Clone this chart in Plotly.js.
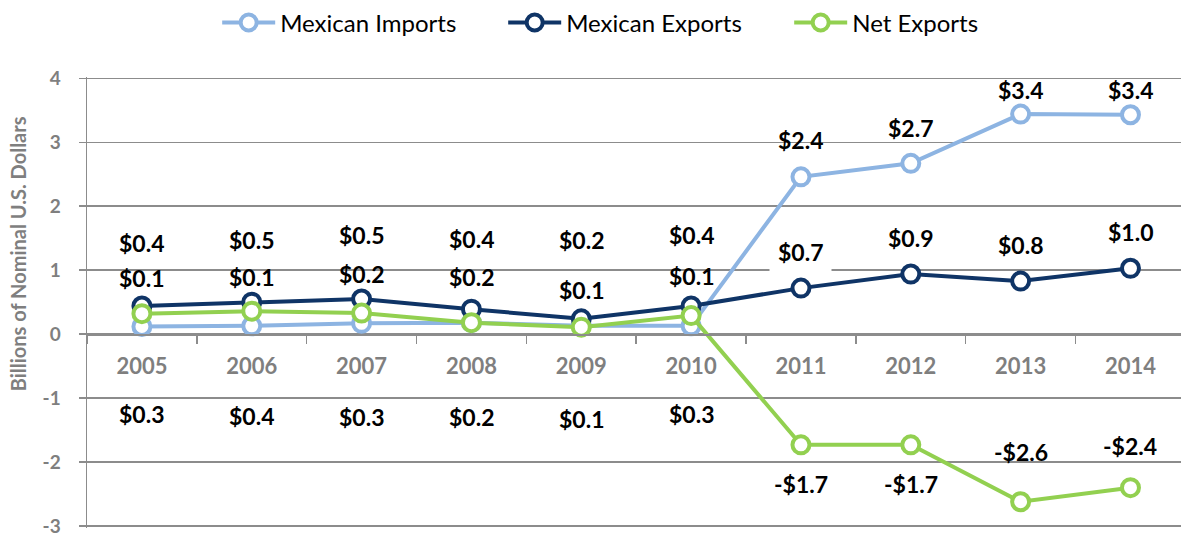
<!DOCTYPE html>
<html>
<head>
<meta charset="utf-8">
<script src="https://cdn.plot.ly/plotly-3.0.1.min.js"></script>
<style>html,body{margin:0;padding:0;background:#fff}#chart{width:1181px;height:535px}</style>
</head>
<body>
<div id="chart"></div>
<script>
const years = ["2005","2006","2007","2008","2009","2010","2011","2012","2013","2014"];
const imports = [0.12, 0.13, 0.17, 0.18, 0.13, 0.13, 2.46, 2.67, 3.44, 3.43];
const exportsV = [0.44, 0.50, 0.55, 0.39, 0.24, 0.44, 0.72, 0.94, 0.83, 1.03];
const netExports = [0.32, 0.36, 0.33, 0.18, 0.11, 0.29, -1.73, -1.73, -2.62, -2.40];
const importLabels = ["$0.1","$0.1","$0.2","$0.2","$0.1","$0.1","$2.4","$2.7","$3.4","$3.4"];
const exportLabels = ["$0.4","$0.5","$0.5","$0.4","$0.2","$0.4","$0.7","$0.9","$0.8","$1.0"];
const netLabels = ["$0.3","$0.4","$0.3","$0.2","$0.1","$0.3","-$1.7","-$1.7","-$2.6","-$2.4"];
const yTickVals = [-3, -2, -1, 0, 1, 2, 3, 4];
const yTickText = ["-3", "-2", "-1", "0", "1", "2", "3", "4"];

// label placement (pixel offsets from the point, like manually placed Excel labels)
const importShift = [48, 49, 49, 46, 36, 50, 37, 35, 24, 25];
const exportShift = [63, 62, 64, 70, 79, 71, 36, 36, 36, 36];
const netShift = [-100, -105, -104, -94, -92, -98, -39, -39, 50, 42];

const FONT = "Lato, 'Open Sans', sans-serif";
const GRID = "#8c8c8c";
const TXT = "#7f7f7f";

function series(name, y, color) {
  return {
    type: "scatter", mode: "lines+markers", name: name,
    x: years, y: y,
    line: {color: color, width: 4},
    marker: {symbol: "circle", size: 17, color: "#ffffff", line: {color: color, width: 4}},
    cliponaxis: false
  };
}

const traces = [
  series("Mexican Imports", imports, "#8db4e2"),
  series("Mexican Exports", exportsV, "#0f3466"),
  series("Net Exports", netExports, "#92d050")
];

const annotations = [];
function addLabels(vals, labels, shifts, bgIdx) {
  for (let i = 0; i < years.length; i++) {
    const bg = bgIdx && bgIdx.indexOf(i) >= 0;
    annotations.push({
      x: i, y: vals[i], xref: "x", yref: "y",
      text: "<b>" + labels[i] + "</b>", showarrow: false, yshift: shifts[i],
      font: {family: FONT, size: 23, color: "#000000"},
      bgcolor: bg ? "#ffffff" : "rgba(0,0,0,0)",
      borderpad: bg ? 8 : 1
    });
  }
}
addLabels(imports, importLabels, importShift);
addLabels(exportsV, exportLabels, exportShift, [6]);
addLabels(netExports, netLabels, netShift);

annotations.push({
  xref: "paper", yref: "paper", x: -0.063, y: 0.607,
  xanchor: "center", yanchor: "middle", textangle: -90, showarrow: false,
  text: "<b>Billions of Nominal U.S. Dollars</b>",
  font: {family: FONT, size: 20, color: TXT}
});

const layout = {
  width: 1181, height: 535,
  margin: {l: 87, r: 0, t: 73, b: 7},
  paper_bgcolor: "#ffffff", plot_bgcolor: "#ffffff",
  font: {family: FONT},
  showlegend: true,
  legend: {
    orientation: "h", x: 0.119, xanchor: "left", y: 1.12, yanchor: "middle",
    font: {family: FONT, size: 24, color: "#000000"},
    itemwidth: 53, entrywidth: 218, entrywidthmode: "pixels"
  },
  xaxis: {
    type: "category", range: [-0.5, 9.46],
    anchor: "free", position: 3.03/7.05,
    showgrid: false, zeroline: false,
    showline: true, linecolor: GRID, linewidth: 1.5,
    ticks: "outside", tickson: "boundaries", ticklen: 8, tickcolor: GRID, tickwidth: 1.5,
    ticklabelstandoff: 12,
    tickfont: {family: FONT, size: 22, color: TXT, weight: "bold"}
  },
  yaxis: {
    range: [-3.03, 4.02], tickmode: "array", tickvals: yTickVals, ticktext: yTickText,
    ticklabeloverflow: "allow",
    showgrid: true, gridcolor: GRID, gridwidth: 1.5,
    zeroline: true, zerolinecolor: GRID, zerolinewidth: 1.5,
    showline: true, linecolor: GRID, linewidth: 1.5,
    ticks: "outside", ticklen: 7, tickcolor: GRID, tickwidth: 1.5,
    ticklabelstandoff: 14,
    tickfont: {family: FONT, size: 19, color: TXT, weight: "bold"}
  },
  annotations: annotations
};

Plotly.newPlot("chart", traces, layout, {displayModeBar: false, staticPlot: true});
</script>
</body>
</html>
